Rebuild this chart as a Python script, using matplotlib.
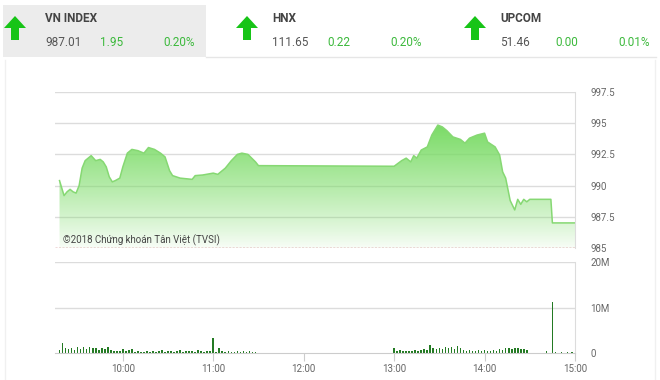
import matplotlib.pyplot as plt
from matplotlib.patches import Rectangle, Polygon
import numpy as np

plt.rcParams['font.family'] = ['Roboto', 'DejaVu Sans']

# ---- header quotes ----
idx_names = ["VN INDEX", "HNX", "UPCOM"]
idx_values = ["987.01", "111.65", "51.46"]
idx_changes = ["1.95", "0.22", "0.00"]
idx_pcts = ["0.20%", "0.20%", "0.01%"]

# ---- intraday VN-Index ----
price_times = ["9:18", "9:21", "9:23", "9:25", "9:27", "9:29", "9:31", "9:33", "9:35",
               "9:39", "9:42", "9:45", "9:47", "9:49", "9:51", "9:53", "9:55", "9:58",
               "10:00", "10:03", "10:06", "10:10", "10:14", "10:17", "10:21", "10:25",
               "10:28", "10:31", "10:33", "10:38", "10:42", "10:46", "10:48", "10:53",
               "11:00", "11:03", "11:08", "11:12", "11:16", "11:19", "11:23", "11:28",
               "11:30", "13:00", "13:05", "13:08", "13:11", "13:13", "13:15", "13:18",
               "13:22", "13:25", "13:29", "13:32", "13:35", "13:39", "13:44", "13:47",
               "13:50", "13:55", "14:00", "14:02", "14:07", "14:10", "14:12", "14:14",
               "14:17", "14:20", "14:22", "14:24", "14:26", "14:28", "14:30", "14:44",
               "14:45", "15:00"]
price_vals = [990.4, 989.2, 989.5, 989.7, 989.5, 989.4, 990.0, 991.4, 992.0,
              992.4, 992.0, 992.1, 991.9, 991.5, 990.7, 990.3, 990.4, 990.6,
              991.5, 992.6, 992.9, 992.8, 992.6, 993.05, 992.9, 992.6,
              992.3, 991.2, 990.8, 990.6, 990.55, 990.5, 990.8, 990.85,
              991.0, 990.9, 991.4, 992.0, 992.5, 992.6, 992.5, 991.9,
              991.6, 991.55, 992.0, 992.2, 991.9, 992.4, 992.2, 992.85,
              993.1, 994.05, 994.85, 994.7, 994.4, 993.9, 993.7, 993.4,
              993.8, 994.05, 994.2, 993.5, 993.1, 992.45, 991.1, 990.6,
              988.8, 988.05, 988.9, 988.5, 988.9, 988.7, 988.9, 988.9,
              987.01, 987.01]

# ---- volume (millions), 2-minute bins ----
am_start = "9:18"
am_vol = [0.6, 2.3, 1.2, 0.8, 1.1, 0.7, 1.3, 0.9, 1.4, 0.8, 1.3, 1.2, 1.1, 0.6, 1.2,
          0.9, 1.3, 0.6, 0.5, 0.4, 0.5, 0.8, 0.4, 0.6, 0.9, 0.3, 0.4, 0.3, 0.3, 0.4,
          0.3, 0.5, 0.3, 0.4, 0.6, 0.3, 0.4, 0.5, 0.3, 0.4, 0.6, 0.3, 0.5, 0.4, 0.5,
          0.3, 0.6, 0.4, 0.3, 0.5, 0.4, 3.2, 0.3, 1.2, 0.4, 0.3, 0.4, 0.3, 0.3, 0.4,
          0.3, 0.5, 0.3, 0.4, 0.3, 0.3]
pm_start = "13:00"
pm_vol = [1.2, 0.5, 0.7, 0.4, 0.5, 0.4, 0.4, 0.7, 0.5, 0.6, 0.8, 0.6, 1.8, 1.2, 0.8,
          1.0, 0.9, 1.3, 1.1, 1.4, 0.8, 1.6, 1.0, 0.7, 0.5, 0.6, 0.5, 0.5, 0.6, 0.5,
          0.7, 0.5, 0.4, 0.7, 0.5, 0.9, 0.6, 1.0, 1.1, 0.9, 1.2, 1.0, 0.9, 0.8, 0.6]
late_times = ["14:41", "14:45", "14:47", "14:51", "14:55", "14:58"]
late_vol = [0.4, 11.2, 0.2, 0.2, 0.2, 0.2]

time_ticks = ["10:00", "11:00", "12:00", "13:00", "14:00", "15:00"]
price_ticks = [985, 987.5, 990, 992.5, 995, 997.5]
vol_ticks = [0, 10, 20]


def hours(s):
    h, m = s.split(":")
    return int(h) + int(m) / 60


px = np.array([hours(t) for t in price_times])
py = np.array(price_vals)

vol_t = ([hours(am_start) + 2 * i / 60 for i in range(len(am_vol))]
         + [hours(pm_start) + 2 * i / 60 for i in range(len(pm_vol))]
         + [hours(t) for t in late_times])
vol_v = am_vol + pm_vol + late_vol

W, H = 660, 380
fig = plt.figure(figsize=(W / 100, H / 100), dpi=100)

# overlay in pixel coords for the header / frame
bg = fig.add_axes([0, 0, 1, 1])
bg.set_xlim(0, W)
bg.set_ylim(H, 0)
bg.axis("off")
bg.set_zorder(-1)

bg.add_patch(Rectangle((3, 5), 203, 52, color="#ececec", lw=0))
bg.plot([206, 656], [57, 57], color="#e6e6e6", lw=1)
bg.plot([5, 5], [60, 380], color="#f0f0f0", lw=1)
bg.plot([655, 655], [60, 380], color="#f0f0f0", lw=1)

green = "#3cb93c"
arrow_x = [15, 247, 475]
text_x = [45, 272, 500]
for k in range(3):
    cx = arrow_x[k]
    arrow = [(cx, 16), (cx + 11, 28), (cx + 4, 28), (cx + 4, 40),
             (cx - 4, 40), (cx - 4, 28), (cx - 11, 28)]
    bg.add_patch(Polygon(arrow, closed=True, color="#17c417", lw=0))
    x0 = text_x[k]
    bg.text(x0, 18, idx_names[k], fontsize=8.5, fontweight="bold", color="#444444",
            va="center", ha="left")
    bg.text(x0, 43, idx_values[k], fontsize=8.5, color="#555555", va="center", ha="left")
    bg.text(x0 + 55, 43, idx_changes[k], fontsize=8.5, color=green, va="center", ha="left")
    bg.text(x0 + 118, 43, idx_pcts[k], fontsize=8.5, color=green, va="center", ha="left")

left, right = 55 / W, 575 / W
ax = fig.add_axes([left, 1 - 248 / H, right - left, (248 - 92) / H])
axv = fig.add_axes([left, 1 - 353 / H, right - left, (353 - 262) / H])

xmin, xmax = hours("9:15"), hours("15:00")
grid_c = "#dcdcdc"
lab_c = "#666666"

# price panel
ax.set_facecolor("none")
ax.set_xlim(xmin, xmax)
ax.set_ylim(985, 997.5)
fill = ax.fill_between(px, py, 985, color="none", lw=0)
grad = np.linspace(1, 0, 256)
top_c = np.array([0.48, 0.86, 0.40])
img = np.ones((256, 1, 4))
img[:, 0, :3] = top_c
img[:, 0, 3] = 0.05 + 0.95 * grad ** 0.9
im = ax.imshow(img, extent=[xmin, xmax, 985, py.max()], aspect="auto",
               origin="upper", zorder=1)
im.set_clip_path(fill.get_paths()[0], transform=ax.transData)
ax.plot(px, py, color="#86d873", lw=1.1, zorder=2)
for v in price_ticks[1:]:
    ax.axhline(v, color=grid_c, lw=1, zorder=0)
ax.axhline(985, color="#b5474b", lw=1, ls=(0, (1.5, 1)), zorder=3)
for s in ["left", "bottom", "top"]:
    ax.spines[s].set_visible(False)
ax.spines["right"].set_color(grid_c)
ax.yaxis.tick_right()
ax.set_yticks(price_ticks)
ax.set_yticklabels([f"{v:g}" for v in price_ticks])
ax.tick_params(axis="y", length=0, pad=11, labelsize=7, labelcolor=lab_c)
ax.set_xticks([])
ax.text(hours("9:20"), 985.2, "©2018 Chứng khoán Tân Việt (TVSI)", fontsize=7,
        color="#444444", va="bottom", ha="left", zorder=4)

# volume panel
axv.set_facecolor("none")
axv.set_xlim(xmin, xmax)
axv.set_ylim(0, 20)
axv.bar(vol_t, vol_v, width=1.1 / 60, color="#237a23", lw=0, zorder=2)
for v in vol_ticks[1:]:
    axv.axhline(v, color=grid_c, lw=1, zorder=0)
for s in ["left", "top"]:
    axv.spines[s].set_visible(False)
axv.spines["right"].set_color(grid_c)
axv.spines["bottom"].set_color("#cccccc")
axv.yaxis.tick_right()
axv.set_yticks(vol_ticks)
axv.set_yticklabels(["0", "10M", "20M"])
axv.tick_params(axis="y", length=0, pad=11, labelsize=7, labelcolor=lab_c)
axv.set_xticks([hours(t) for t in time_ticks])
axv.set_xticklabels(time_ticks)
axv.tick_params(axis="x", length=6, color="#cccccc", labelsize=7, labelcolor=lab_c, pad=2)

fig.savefig("out.png", dpi=100)
